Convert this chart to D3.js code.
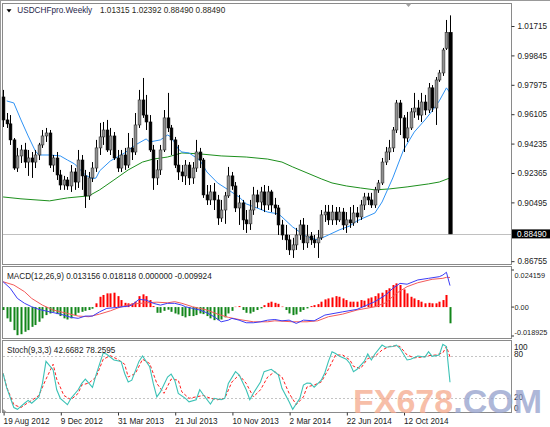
<!DOCTYPE html>
<html><head><meta charset="utf-8">
<script src="https://cdn.jsdelivr.net/npm/d3@7"></script>
<style>
html,body{margin:0;padding:0;background:#fff;}
svg{display:block;font-family:"Liberation Sans",Arial,sans-serif;}
</style></head><body>
<svg id="c" width="550" height="427"></svg>
<script>
const symbolName = "USDCHFpro.Weekly";
const lastQuote = ["1.01315", "1.02392", "0.88490", "0.88490"];
const lastPrice = 0.88490;

const open = [0.9720,0.9574,0.9549,0.9447,0.9268,0.9345,0.9383,0.9306,0.9332,0.9306,
0.9351,0.9415,0.9472,0.9491,0.9287,0.9332,0.9224,0.9160,0.9192,0.9154,
0.9243,0.9179,0.9319,0.9218,0.9091,0.9205,0.9268,0.9396,0.9466,0.9510,
0.9383,0.9472,0.9332,0.9268,0.9351,0.9287,0.9396,0.9370,0.9542,0.9701,
0.9605,0.9561,0.9383,0.9205,0.9256,0.9383,0.9587,0.9523,0.9447,0.9287,
0.9243,0.9218,0.9287,0.9205,0.9268,0.9370,0.9319,0.9097,0.9065,0.9116,
0.9065,0.8950,0.9001,0.9091,0.9218,0.9154,0.9014,0.9046,0.8938,0.8913,
0.9001,0.9097,0.9052,0.9116,0.9033,0.9116,0.9033,0.9014,0.8906,0.8842,
0.8811,0.8747,0.8779,0.8842,0.8906,0.8792,0.8836,0.8811,0.8792,0.8824,
0.8970,0.8988,0.8938,0.8988,0.8938,0.8988,0.8906,0.8938,0.8919,0.8982,
0.8957,0.9033,0.9084,0.9065,0.9033,0.9129,0.9173,0.9306,0.9370,0.9396,
0.9510,0.9682,0.9587,0.9459,0.9523,0.9625,0.9650,0.9605,0.9688,0.9637,
0.9778,0.9650,0.9828,0.9873,1.0030,1.01315];
const close = [0.9574,0.9549,0.9447,0.9268,0.9345,0.9383,0.9306,0.9332,0.9306,0.9351,
0.9415,0.9472,0.9491,0.9287,0.9332,0.9224,0.9160,0.9192,0.9154,0.9243,
0.9179,0.9319,0.9218,0.9091,0.9205,0.9268,0.9396,0.9466,0.9510,0.9383,
0.9472,0.9332,0.9268,0.9351,0.9287,0.9396,0.9370,0.9542,0.9701,0.9605,
0.9561,0.9383,0.9205,0.9256,0.9383,0.9587,0.9523,0.9447,0.9287,0.9243,
0.9218,0.9287,0.9205,0.9268,0.9370,0.9319,0.9097,0.9065,0.9116,0.9065,
0.8950,0.9001,0.9091,0.9218,0.9154,0.9014,0.9046,0.8938,0.8913,0.9001,
0.9097,0.9052,0.9116,0.9033,0.9116,0.9033,0.9014,0.8906,0.8842,0.8811,
0.8747,0.8779,0.8842,0.8906,0.8792,0.8836,0.8811,0.8792,0.8824,0.8970,
0.8988,0.8938,0.8988,0.8938,0.8988,0.8906,0.8938,0.8919,0.8982,0.8957,
0.9033,0.9084,0.9065,0.9033,0.9129,0.9173,0.9306,0.9370,0.9396,0.9510,
0.9682,0.9587,0.9459,0.9523,0.9625,0.9650,0.9605,0.9688,0.9637,0.9778,
0.9650,0.9828,0.9873,1.0019,1.0131,0.88490];
const high = [0.9765,0.9618,0.9605,0.9459,0.9396,0.9415,0.9428,0.9383,0.9370,0.9383,
0.9428,0.9510,0.9523,0.9510,0.9351,0.9370,0.9256,0.9218,0.9211,0.9287,
0.9268,0.9383,0.9351,0.9256,0.9243,0.9306,0.9447,0.9555,0.9561,0.9574,
0.9523,0.9497,0.9383,0.9383,0.9396,0.9491,0.9459,0.9618,0.9765,0.9841,
0.9733,0.9605,0.9415,0.9319,0.9415,0.9637,0.9746,0.9542,0.9466,0.9415,
0.9287,0.9319,0.9306,0.9306,0.9447,0.9396,0.9332,0.9160,0.9160,0.9173,
0.9097,0.9065,0.9116,0.9275,0.9243,0.9179,0.9097,0.9065,0.9001,0.9065,
0.9148,0.9129,0.9148,0.9160,0.9154,0.9129,0.9078,0.9033,0.8938,0.8906,
0.8842,0.8824,0.8887,0.8938,0.8950,0.8906,0.8861,0.8842,0.8874,0.9001,
0.9033,0.9033,0.9033,0.9020,0.9020,0.9014,0.8988,0.9020,0.9033,0.9020,
0.9065,0.9110,0.9110,0.9110,0.9148,0.9192,0.9332,0.9402,0.9447,0.9529,
0.9701,0.9701,0.9605,0.9625,0.9650,0.9746,0.9701,0.9746,0.9733,0.9809,
0.9796,0.9847,0.9892,1.0032,1.0210,1.02392];
const low = [0.9529,0.9523,0.9415,0.9256,0.9243,0.9300,0.9268,0.9218,0.9205,0.9268,
0.9319,0.9396,0.9434,0.9268,0.9243,0.9192,0.9129,0.9129,0.9129,0.9116,
0.9129,0.9141,0.9129,0.9014,0.9065,0.9179,0.9243,0.9351,0.9415,0.9370,
0.9351,0.9319,0.9243,0.9243,0.9256,0.9268,0.9319,0.9351,0.9523,0.9587,
0.9510,0.9370,0.9129,0.9160,0.9224,0.9370,0.9497,0.9351,0.9268,0.9192,
0.9179,0.9160,0.9160,0.9167,0.9243,0.9268,0.9078,0.9033,0.9033,0.9001,
0.8906,0.8925,0.8913,0.9078,0.9129,0.8988,0.8906,0.8874,0.8855,0.8874,
0.8970,0.9014,0.9001,0.8988,0.9001,0.8988,0.8970,0.8842,0.8811,0.8747,
0.8715,0.8696,0.8747,0.8811,0.8747,0.8760,0.8779,0.8760,0.8696,0.8811,
0.8925,0.8906,0.8906,0.8906,0.8925,0.8874,0.8855,0.8887,0.8900,0.8919,
0.8938,0.9001,0.9033,0.9014,0.9014,0.9110,0.9160,0.9287,0.9319,0.9370,
0.9491,0.9478,0.9370,0.9434,0.9510,0.9587,0.9574,0.9561,0.9605,0.9618,
0.9625,0.9542,0.9816,0.9854,1.0019,0.88490];

// moving averages: [week index, value]
const maFast = [[1,0.9695],[3,0.9682],[5,0.9574],[7,0.9472],[9,0.9377],[10,0.9351],[13,0.9351],
[16,0.9345],[18,0.9319],[20,0.9294],[23,0.9224],[25,0.9199],[26,0.9205],[27,0.9250],[30,0.9313],
[34,0.9364],[37,0.9415],[40,0.9453],[41,0.9434],[44,0.9447],[46,0.9478],[47,0.9466],[48,0.9428],
[49,0.9389],[50,0.9370],[52,0.9364],[55,0.9319],[57,0.9243],[60,0.9173],[63,0.9129],[66,0.9084],
[68,0.9040],[71,0.9014],[74,0.8988],[77,0.8976],[78,0.8957],[81,0.8893],[83,0.8861],[85,0.8830],
[88,0.8811],[91,0.8842],[94,0.8874],[97,0.8900],[99,0.8932],[104,0.8982],[106,0.9052],[109,0.9205],
[112,0.9383],[115,0.9497],[118,0.9574],[120,0.9631],[122,0.9695],[124,0.9778],[125,0.9746]];
const maSlow = [[0,0.9084],[5,0.9072],[13,0.9059],[18,0.9078],[24,0.9091],[27,0.9129],[31,0.9192],
[35,0.9256],[39,0.9306],[42,0.9325],[46,0.9338],[50,0.9364],[55,0.9358],[61,0.9345],[68,0.9338],
[74,0.9325],[78,0.9306],[81,0.9275],[85,0.9237],[89,0.9199],[92,0.9173],[96,0.9154],[100,0.9141],
[104,0.9129],[108,0.9135],[113,0.9148],[119,0.9167],[122,0.9179],[125,0.9205]];

const macdHist = [-0.0018,-0.0069,-0.0090,-0.0141,-0.0172,-0.0166,-0.0151,-0.0141,-0.0121,-0.0110,
-0.0090,-0.0069,-0.0049,-0.0039,-0.0029,-0.0043,-0.0055,-0.0069,-0.0076,-0.0069,
-0.0049,-0.0035,-0.0029,-0.0023,-0.0018,-0.0010,0.0023,0.0063,0.0074,0.0084,
0.0084,0.0088,0.0067,0.0043,0.0026,0.0023,0.0023,0.0033,0.0067,0.0078,
0.0067,0.0043,0.0006,-0.0035,-0.0035,-0.0023,-0.0016,-0.0029,-0.0039,-0.0045,
-0.0055,-0.0063,-0.0055,-0.0055,-0.0049,-0.0039,-0.0043,-0.0055,-0.0069,-0.0080,
-0.0080,-0.0076,-0.0063,-0.0039,-0.0023,0.0002,0.0006,-0.0018,-0.0035,-0.0039,
-0.0029,-0.0018,-0.0008,0.0012,0.0026,0.0033,0.0026,0.0020,0.0003,-0.0018,
-0.0039,-0.0049,-0.0045,-0.0029,-0.0018,-0.0008,0.0006,0.0012,0.0018,0.0033,
0.0047,0.0053,0.0059,0.0067,0.0063,0.0053,0.0043,0.0033,0.0033,0.0033,
0.0043,0.0039,0.0053,0.0059,0.0067,0.0084,0.0088,0.0104,0.0115,0.0135,
0.0145,0.0135,0.0108,0.0084,0.0063,0.0053,0.0043,0.0033,0.0023,0.0026,
0.0023,0.0023,0.0033,0.0043,0.0074,-0.009924];
const macdMain = [[0,0.0155],[2,0.0115],[4,0.0053],[6,0.0023],[8,0.0002],[10,-0.0014],[13,-0.0029],
[16,-0.0043],[19,-0.0063],[21,-0.0069],[23,-0.0055],[25,-0.0055],[27,-0.0029],[29,-0.0008],
[32,-0.0002],[35,0.0006],[36,0.0012],[38,0.0047],[40,0.0043],[42,0.0023],[44,0.0012],[46,0.0023],
[48,0.0023],[50,0.0012],[51,0.0002],[53,-0.0008],[55,-0.0018],[57,-0.0035],[59,-0.0059],
[61,-0.0090],[63,-0.0080],[64,-0.0069],[66,-0.0080],[68,-0.0096],[70,-0.0096],[72,-0.0090],
[74,-0.0080],[76,-0.0076],[78,-0.0084],[80,-0.0080],[82,-0.0100],[84,-0.0080],[87,-0.0084],
[90,-0.0049],[95,-0.0029],[99,-0.0014],[104,0.0033],[107,0.0074],[109,0.0115],[111,0.0145],
[113,0.0140],[116,0.0166],[119,0.0176],[122,0.0186],[123,0.0196],[124,0.0213],[125,0.013156]];
const macdSignal = [[0,0.0155],[3,0.0135],[6,0.0094],[8,0.0053],[11,0.0012],[14,-0.0018],[18,-0.0039],
[21,-0.0055],[24,-0.0059],[27,-0.0043],[30,-0.0023],[33,0.0002],[36,0.0018],[40,0.0026],[43,0.0030],
[46,0.0026],[48,0.0033],[50,0.0023],[53,0.0002],[57,-0.0018],[60,-0.0043],[63,-0.0063],[66,-0.0076],
[70,-0.0090],[74,-0.0090],[76,-0.0084],[81,-0.0090],[85,-0.0090],[88,-0.0084],[91,-0.0059],
[95,-0.0043],[99,-0.0018],[104,0.0002],[107,0.0026],[110,0.0084],[113,0.0125],[116,0.0149],
[120,0.0170],[123,0.0176],[124,0.0182],[125,0.018118]];
const macdValues = ["0.013156","0.018118","0.000000","-0.009924"];

const stochMain = [[0,55],[1,35],[3,7],[4,4.5],[6,13],[7,17],[8,13],[10,22],[11,41],[12,72],[14,60],
[15,32],[16,20],[18,11],[19,20],[21,32],[22,41],[23,47],[25,35.5],[26,53],[28,84],[29,82],[31,74],
[33,72],[34,55],[35,43],[36,45.5],[38,72],[39,79.6],[41,64.5],[42,41],[43,22],[44,29],[46,50],
[47,54],[48,45.5],[49,27],[51,20],[52,15],[54,18],[55,32],[56,25],[58,12],[59,20],[61,18],[62,20],
[63,41],[65,57.5],[66,53],[68,32],[69,18],[70,27],[72,43],[73,57.5],[75,60.8],[76,57],[77,53],
[78,34],[80,15],[81,4.5],[83,20],[84,38.7],[85,41.5],[86,41],[87,35.5],[89,45.5],[90,56],[91,72],
[92,85.6],[93,83],[94,79.6],[96,75],[97,69],[98,57.5],[99,60.8],[101,72],[102,82.4],[103,74],
[104,82.4],[106,95],[107,92],[109,93],[110,95],[111,90.5],[113,74],[114,75],[116,79.6],[118,78],
[119,85.6],[120,79],[122,81],[123,96],[124,93],[125,42.6682]];
const stochSignal = [[0,55],[1,36],[3,11],[5,7],[7,14],[8,17],[10,24],[12,47],[14,68],[15,47],[17,24],
[19,18],[21,27],[22,38.7],[24,41.5],[26,50],[28,75],[30,80],[32,75],[34,68],[35,50],[37,55],[39,75],
[41,69],[43,41],[45,27],[47,47],[49,45.5],[50,29],[52,20],[54,22],[56,24],[58,20],[60,18],[62,20],
[64,43],[66,53],[68,41],[70,22],[72,32],[74,50],[76,57.5],[78,50],[80,27],[82,11],[84,22],[85,36],
[87,38.7],[89,43],[91,61],[93,81],[95,81],[97,74],[98,65],[100,62],[102,76],[104,79],[106,88],
[108,93],[110,94],[111,93],[113,81],[115,77],[117,78],[119,80],[121,81],[123,84],[124,93],[125,78.2595]];
const stochValues = ["42.6682","78.2595"];

const priceTicks = [1.01715,0.99845,0.97975,0.96105,0.94235,0.92365,0.90495,0.86755];
const macdTicks = [0.024159,0,-0.018925];
const macdTickLabels = ["0.024159","0.00","-0.018925"];
const stochTicks = [100,80,20,0];
const stochLevels = [80,20];
const dateTickLabels = ["19 Aug 2012","9 Dec 2012","31 Mar 2013","21 Jul 2013","10 Nov 2013","2 Mar 2014","22 Jun 2014","12 Oct 2014"];

// ---------------------------------------------------------------
const svg = d3.select("#c");
const FS = 8.2;
const fmt = d3.timeFormat("%-d %b %Y");
const weeks = d3.timeWeek.range(new Date(2012,7,19), new Date(2015,0,12)).map(fmt);
const x = d3.scalePoint().domain(weeks).range([3.1, 450]);
const X = i => Math.round(x(weeks[i]));
const yP = d3.scaleLinear().domain([0.86575, 1.03115]).range([264, 4]);
const yM = d3.scaleLinear().domain([-0.018925, 0.024159]).range([338, 267.6]);
const yS = d3.scaleLinear().domain([0, 100]).range([412.5, 341.5]);

// frames
svg.append("line").attr("x1",0).attr("x2",550).attr("y1",0.5).attr("y2",0.5).attr("stroke","#999");
svg.append("line").attr("x1",0.5).attr("x2",0.5).attr("y1",0).attr("y2",413).attr("stroke","#999");
const panels = [[3.5,264.5],[266.5,338.5],[340.5,412.5]];
svg.selectAll("rect.panel").data(panels).enter().append("rect")
  .attr("x",2.5).attr("y",d=>d[0]).attr("width",509).attr("height",d=>d[1]-d[0])
  .attr("fill","none").attr("stroke","#8a8a8a");

// chart-shift marker
svg.append("path").attr("d","M405.5,3.5 L411.5,3.5 L408.5,7 Z").attr("fill","#a0a0a0");

// current price line
svg.append("line").attr("x1",3).attr("x2",511).attr("y1",Math.round(yP(lastPrice))+0.5).attr("y2",Math.round(yP(lastPrice))+0.5)
  .attr("stroke","#c0c0c0");

// MAs
const lineP = d3.line().x(d=>x(weeks[d[0]])).y(d=>yP(d[1]));
svg.append("path").attr("d",lineP(maSlow)).attr("fill","none").attr("stroke","#1d8f1d").attr("stroke-width",1);
svg.append("path").attr("d",lineP(maFast)).attr("fill","none").attr("stroke","#2f93f5").attr("stroke-width",1);

// candles
const idx = d3.range(weeks.length);
const gC = svg.append("g");
gC.selectAll("line.w").data(idx).enter().append("line")
  .attr("x1",i=>X(i)+0.5).attr("x2",i=>X(i)+0.5)
  .attr("y1",i=>yP(high[i])).attr("y2",i=>yP(low[i]))
  .attr("stroke","#000").attr("stroke-width",1);
gC.selectAll("rect.b").data(idx).enter().append("rect")
  .attr("x",i=> i===weeks.length-1 ? X(i)-1.2 : X(i)-0.9)
  .attr("width",i=> i===weeks.length-1 ? 3.4 : 2.8)
  .attr("y",i=>yP(Math.max(open[i],close[i])))
  .attr("height",i=>Math.max(1,Math.abs(yP(open[i])-yP(close[i]))))
  .attr("fill",i=>close[i]>=open[i]?"#909090":"#000")
  .attr("stroke",i=>close[i]>=open[i]?"#333":"#000")
  .attr("stroke-width",0.6);

// price axis
const axP = svg.append("g").attr("transform","translate(511.5,0)")
  .call(d3.axisRight(yP).tickValues(priceTicks).tickFormat(d3.format(".5f")).tickSize(3).tickPadding(3));
axP.select(".domain").remove();
axP.selectAll("line").attr("stroke","#333");
axP.selectAll("text").attr("font-size",FS).attr("fill","#222").attr("font-family","Liberation Sans, Arial, sans-serif");
// current price box
const yc = yP(lastPrice);
svg.append("rect").attr("x",512).attr("y",yc-4.5).attr("width",38).attr("height",9).attr("fill","#000");
svg.append("text").attr("x",517).attr("y",yc+2.8).attr("font-size",FS).attr("fill","#fff").text(d3.format(".5f")(lastPrice));

// title
svg.append("path").attr("d","M6.5,9.3 L11.5,9.3 L9,12.5 Z").attr("fill","#000");
svg.append("text").attr("x",17.3).attr("y",13.3).attr("font-size",FS).attr("fill","#26264a").text(symbolName);
svg.append("text").attr("x",100).attr("y",13.3).attr("font-size",FS).attr("fill","#2a2a1a").text(lastQuote.join(" "));

// MACD
const gM = svg.append("g");
gM.selectAll("rect").data(idx).enter().append("rect")
  .attr("x",i=>X(i)-0.5).attr("width",2)
  .attr("y",i=>Math.min(yM(0),yM(macdHist[i])))
  .attr("height",i=>Math.abs(yM(macdHist[i])-yM(0)))
  .attr("fill",i=>macdHist[i]>=0?"#ff0000":"#12861a");
const lineM = d3.line().x(d=>x(weeks[d[0]])).y(d=>yM(d[1]));
gM.append("path").attr("d",lineM(macdSignal)).attr("fill","none").attr("stroke","#f45a5a").attr("stroke-width",1);
gM.append("path").attr("d",lineM(macdMain)).attr("fill","none").attr("stroke","#3c3cf5").attr("stroke-width",1);
svg.append("text").attr("x",7).attr("y",278.5).attr("font-size",FS).attr("fill","#222")
  .text("MACD(12,26,9) " + macdValues.join(" "));
svg.selectAll("text.ml").data(macdTicks).enter().append("text")
  .attr("x",514.5).attr("y",(d)=>Math.min(Math.max(yM(d)+2.5,278.3),335))
  .attr("font-size",7.3).attr("fill","#222").text((d,i)=>macdTickLabels[i]);
svg.selectAll("line.mt").data(macdTicks).enter().append("line")
  .attr("x1",511.5).attr("x2",514).attr("y1",d=>Math.min(Math.max(yM(d),270),336)).attr("y2",d=>Math.min(Math.max(yM(d),270),336))
  .attr("stroke","#333");

// Stochastic
svg.selectAll("line.lvl").data(stochLevels).enter().append("line")
  .attr("x1",3).attr("x2",511).attr("y1",d=>Math.round(yS(d))+0.5).attr("y2",d=>Math.round(yS(d))+0.5)
  .attr("stroke","#c4c4c4").attr("stroke-dasharray","2,2");
const lineS = d3.line().x(d=>x(weeks[d[0]])).y(d=>yS(d[1]));
svg.append("path").attr("d",lineS(stochSignal)).attr("fill","none").attr("stroke","#ff2020").attr("stroke-width",1).attr("stroke-dasharray","3,2");
svg.append("path").attr("d",lineS(stochMain)).attr("fill","none").attr("stroke","#3cc2b6").attr("stroke-width",1.1);
svg.append("text").attr("x",7).attr("y",352.5).attr("font-size",FS).attr("fill","#222")
  .text("Stoch(9,3,3) " + stochValues.join(" "));
svg.selectAll("text.sl").data(stochTicks).enter().append("text")
  .attr("x",514).attr("y",d=>Math.min(Math.max(yS(d)+1.5,349.5),411))
  .attr("font-size",FS).attr("fill","#222").text(d=>d);
svg.append("path").attr("d","M3,409 L3,412.5 L7,412.5 Z").attr("fill","#999");

// date axis
const axD = svg.append("g").attr("transform","translate(0,412.5)")
  .call(d3.axisBottom(x).tickValues(dateTickLabels).tickSize(3).tickPadding(2));
axD.select(".domain").remove();
axD.selectAll("line").attr("stroke","#333").attr("transform","translate(0.5,0)");
axD.selectAll("text").attr("text-anchor","start").attr("font-size",FS).attr("fill","#222")
  .attr("font-family","Liberation Sans, Arial, sans-serif").attr("dy",0).attr("y",11.7);

// watermark
const wm = svg.append("text").attr("x",353).attr("y",412.7).attr("font-size",34).attr("font-weight","bold")
  .attr("font-family","Liberation Sans, Arial, sans-serif");
wm.append("tspan").attr("fill","#f5a98c").attr("fill-opacity",0.75).text("FX678");
wm.append("tspan").attr("fill","#93a0cc").attr("fill-opacity",0.75).text(".COM");
</script>
</body></html>
